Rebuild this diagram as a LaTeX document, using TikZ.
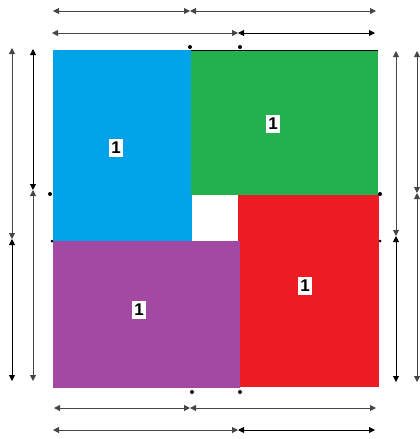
\documentclass[tikz,border=0pt]{standalone}
\usepackage{fontspec}
\setmainfont{Liberation Sans}
\usetikzlibrary{arrows.meta}
\definecolor{pblue}{RGB}{0,162,232}
\definecolor{pgreen}{RGB}{34,177,76}
\definecolor{pred}{RGB}{237,28,36}
\definecolor{ppurple}{RGB}{163,73,164}
\definecolor{dimgray}{RGB}{70,70,70}
\tikzset{
  tile/.style={draw=none,inner sep=0pt,outer sep=0pt},
  lab/.style={fill=white,inner xsep=2.5pt,inner ysep=3pt,font=\fontsize{17}{17}\selectfont\bfseries},
  dimline/.style={draw=dimgray,line width=1pt,{Triangle[length=6pt,width=6pt]}-{Triangle[length=6pt,width=6pt]}},
  dimlineb/.style={draw=black,line width=0.9pt,{Triangle[length=6pt,width=6pt]}-{Triangle[length=6pt,width=6pt]}},
  dotmark/.style={circle,fill=black,inner sep=0pt,minimum size=4pt},
}
\begin{document}
\begin{tikzpicture}[x=1pt,y=-1pt]
\useasboundingbox (0,0) rectangle (420,439);
% tiles
\fill[pblue] (53,50) rectangle (192,241);
\fill[pgreen] (191,50) rectangle (378,195);
\fill[pred] (238,195) rectangle (379,387);
\fill[ppurple] (53,241) rectangle (240,388);
\draw[line width=0.6pt] (191,50) -- (378,50);
\node[tile] (blue) at (122.5,145.5) {};
\node[tile] (green) at (284.5,122.5) {};
\node[tile] (red) at (308.5,291) {};
\node[tile] (purple) at (146.5,314.5) {};
% labels
\node[lab] (lb) at (116,148) {1};
\node[lab] (lg) at (273,124) {1};
\node[lab] (lp) at (139,310) {1};
\node[lab] (lr) at (305,286) {1};
% marker dots
\node[dotmark] (d1) at (190,47) {};
\node[dotmark] (d2) at (240,47) {};
\node[dotmark] (d3) at (192,392) {};
\node[dotmark] (d4) at (240,392) {};
\node[dotmark] (d5) at (50,194) {};
\node[dotmark,minimum size=3pt] (d6) at (52,241) {};
\node[dotmark] (d7) at (380,194) {};
\node[dotmark,minimum size=3pt] (d8) at (380,241) {};
% dimension coordinates
\coordinate (t1a) at (53,11); \coordinate (t1b) at (190,11); \coordinate (t1c) at (376,11);
\coordinate (t2a) at (52,33); \coordinate (t2b) at (238,33); \coordinate (t2c) at (375,33);
\coordinate (b1a) at (54,408); \coordinate (b1b) at (190,408); \coordinate (b1c) at (376,408);
\coordinate (b2a) at (53,430); \coordinate (b2b) at (238,430); \coordinate (b2c) at (375,430);
\coordinate (l1a) at (12,48); \coordinate (l1b) at (12,239); \coordinate (l1c) at (12,381);
\coordinate (l2a) at (33,49); \coordinate (l2b) at (33,190); \coordinate (l2c) at (33,381);
\coordinate (r1a) at (396,51); \coordinate (r1b) at (396,236); \coordinate (r1c) at (396,382);
\coordinate (r2a) at (417,51); \coordinate (r2b) at (417,193); \coordinate (r2c) at (417,382);
% dimension arrows
\draw[dimline] (t1a) -- (t1b);
\draw[dimline] (t1b) -- (t1c);
\draw[dimline] (t2a) -- (t2b);
\draw[dimlineb] (t2b) -- (t2c);
\draw[dimline] (b1a) -- (b1b);
\draw[dimline] (b1b) -- (b1c);
\draw[dimline] (b2a) -- (b2b);
\draw[dimlineb] (b2b) -- (b2c);
\draw[dimline] (l1a) -- (l1b);
\draw[dimlineb] (l1b) -- (l1c);
\draw[dimlineb] (l2a) -- (l2b);
\draw[dimline] (l2b) -- (l2c);
\draw[dimline] (r1a) -- (r1b);
\draw[dimlineb] (r1b) -- (r1c);
\draw[dimline] (r2a) -- (r2b);
\draw[dimline] (r2b) -- (r2c);
\end{tikzpicture}
\end{document}
